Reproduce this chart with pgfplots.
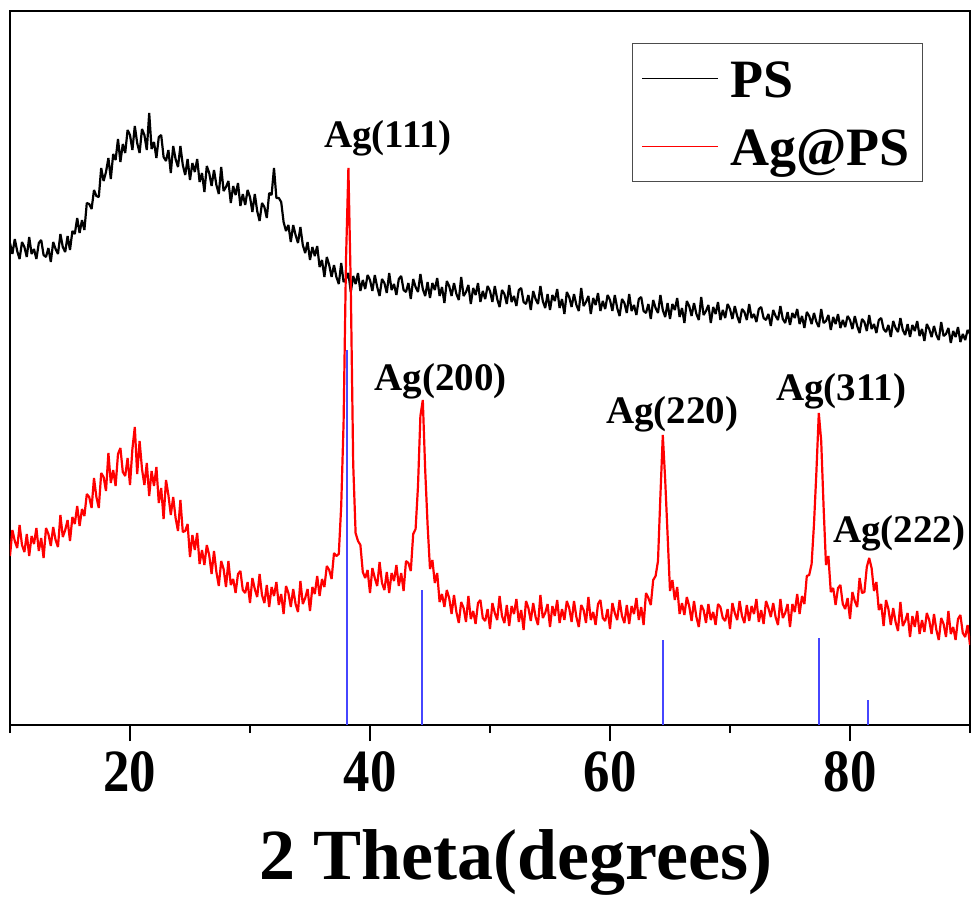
\documentclass[border=0pt]{standalone}
\usepackage{fontspec}
\setmainfont{Liberation Serif}
\usepackage{pgfplots}
\usepackage{pgfplotstable}
\pgfplotsset{compat=1.18}
\definecolor{stick}{RGB}{70,70,255}

% 2theta, PS intensity, Ag@PS intensity (arbitrary units, offset as plotted)
\pgfplotstableread{
x ps ag
10.0 482 169
10.2 471 195
10.4 486 184
10.6 474 177
10.8 466 200
11.0 483 180
11.2 478 173
11.4 468 191
11.6 488 169
11.8 471 189
12.0 476 181
12.2 466 197
12.4 482 174
12.6 485 187
12.8 470 167
13.0 468 197
13.2 477 191
13.4 463 179
13.6 483 198
13.8 476 185
14.0 471 178
14.2 491 210
14.4 478 188
14.6 473 195
14.8 489 205
15.0 475 184
15.2 494 208
15.4 491 201
15.6 507 219
15.8 492 199
16.0 505 216
16.2 495 209
16.4 522 231
16.6 521 228
16.8 516 217
17.0 535 247
17.2 529 228
17.4 528 217
17.6 557 252
17.8 544 248
18.0 553 234
18.2 567 272
18.4 546 242
18.6 571 255
18.8 565 239
19.0 586 271
19.2 563 277
19.4 581 253
19.6 572 249
19.8 595 267
20.0 590 240
20.2 575 276
20.4 599 298
20.6 582 251
20.8 572 284
21.0 596 256
21.2 590 240
21.4 575 262
21.6 612 229
21.8 576 254
22.0 583 239
22.2 567 258
22.4 588 222
22.6 590 237
22.8 568 206
23.0 564 245
23.2 575 230
23.4 552 210
23.6 579 228
23.8 566 207
24.0 558 194
24.2 579 225
24.4 560 193
24.6 550 194
24.8 566 201
25.0 545 168
25.2 562 190
25.4 553 175
25.6 566 192
25.8 543 161
26.0 552 175
26.2 533 160
26.4 559 180
26.6 552 170
26.8 539 151
27.0 555 174
27.2 540 153
27.4 531 139
27.6 558 164
27.8 534 156
28.0 538 138
28.2 544 164
28.4 522 140
28.6 539 146
28.8 530 132
29.0 542 151
29.2 519 154
29.4 531 135
29.6 520 132
29.8 535 143
30.0 528 122
30.2 513 147
30.4 531 136
30.6 514 128
30.8 504 151
31.0 522 130
31.2 518 122
31.4 507 140
31.6 532 118
31.8 530 138
32.0 557 129
32.2 527 143
32.4 527 120
32.6 523 131
32.8 503 111
33.0 494 139
33.2 500 132
33.4 483 118
33.6 500 136
33.8 490 121
34.0 482 113
34.2 498 144
34.4 480 121
34.6 472 127
34.8 483 136
35.0 465 114
35.2 478 138
35.4 469 131
35.6 479 149
35.8 458 129
36.0 465 146
36.2 448 138
36.4 468 159
36.6 460 155
36.8 448 146
37.0 460 172
37.2 448 169
37.4 441 171
37.6 462 219
37.8 443 303
38.0 446 465
38.2 452 557
38.4 433 437
38.6 449 261
38.8 441 192
39.0 452 184
39.2 434 180
39.4 445 153
39.6 436 147
39.8 450 155
40.0 445 132
40.2 434 157
40.4 450 147
40.6 438 139
40.8 429 163
41.0 446 142
41.2 442 135
41.4 432 153
41.6 452 132
41.8 435 152
42.0 441 144
42.2 430 160
42.4 446 139
42.6 449 152
42.8 435 134
43.0 433 164
43.2 442 162
43.4 426 154
43.6 446 191
43.8 438 196
44.0 433 239
44.2 451 309
44.4 436 325
44.6 429 255
44.8 443 200
45.0 427 156
45.2 442 165
45.4 435 142
45.6 447 152
45.8 429 123
46.0 438 131
46.2 422 118
46.4 444 135
46.6 439 127
46.8 429 111
47.0 442 130
47.2 431 113
47.4 425 102
47.6 448 123
47.8 429 117
48.0 433 103
48.2 440 129
48.4 421 106
48.6 437 114
48.8 430 101
49.0 442 122
49.2 423 125
49.4 434 107
49.6 426 104
49.8 439 116
50.0 434 96
50.2 423 122
50.4 439 112
50.6 426 105
50.8 418 129
51.0 435 109
51.2 431 102
51.4 421 120
51.6 440 99
51.8 423 119
52.0 429 111
52.2 419 126
52.4 435 103
52.6 437 115
52.8 423 95
53.0 421 124
53.2 430 117
53.4 415 104
53.6 434 122
53.8 426 108
54.0 421 100
54.2 439 130
54.4 424 107
54.6 417 112
54.8 431 121
55.0 415 98
55.2 430 119
55.4 424 109
55.6 436 125
55.8 417 102
56.0 426 116
56.2 411 105
56.4 433 124
56.6 428 117
56.8 418 103
57.0 431 124
57.2 420 108
57.4 414 98
57.6 437 120
57.8 419 115
58.0 423 102
58.2 429 128
58.4 411 105
58.6 427 113
58.8 420 100
59.0 432 121
59.2 414 125
59.4 424 107
59.6 416 104
59.8 430 116
60.0 425 96
60.2 414 122
60.4 430 112
60.6 417 105
60.8 409 125
61.0 426 109
61.2 422 102
61.4 412 120
61.6 431 101
61.8 414 119
62.0 420 111
62.2 410 127
62.4 426 105
62.6 428 118
62.8 414 100
63.0 412 132
63.2 421 127
63.4 406 120
63.6 425 145
63.8 417 149
64.0 412 164
64.2 430 229
64.4 415 290
64.6 408 245
64.8 422 190
65.0 406 134
65.2 421 145
65.4 415 125
65.6 427 138
65.8 408 111
66.0 417 122
66.2 402 110
66.4 424 128
66.6 419 119
66.8 409 104
67.0 422 124
67.2 411 108
67.4 405 98
67.6 428 120
67.8 410 115
68.0 414 102
68.2 420 121
68.4 402 105
68.6 418 113
68.8 411 100
69.0 423 121
69.2 405 118
69.4 415 107
69.6 407 104
69.8 421 116
70.0 416 96
70.2 406 122
70.4 419 112
70.6 409 105
70.8 402 124
71.0 416 109
71.2 413 102
71.4 405 120
71.6 421 104
71.8 407 119
72.0 411 111
72.2 403 126
72.4 416 103
72.6 418 115
72.8 407 101
73.0 405 124
73.2 411 117
73.4 399 108
73.6 415 122
73.8 409 108
74.0 405 100
74.2 419 126
74.4 406 107
74.6 402 112
74.8 413 121
75.0 400 98
75.2 412 121
75.4 407 113
75.6 416 131
75.8 401 111
76.0 409 129
76.2 397 121
76.4 413 149
76.6 409 150
76.8 401 161
77.0 412 201
77.2 403 253
77.4 398 312
77.6 416 284
77.8 402 218
78.0 404 160
78.2 410 169
78.4 395 133
78.6 408 137
78.8 401 120
79.0 411 137
79.2 397 140
79.4 405 121
79.6 398 116
79.8 409 127
80.0 405 106
80.2 396 133
80.4 409 124
80.6 399 118
80.8 392 147
81.0 406 132
81.2 403 133
81.4 394 158
81.6 410 167
81.8 396 157
82.0 401 134
82.2 392 143
82.4 405 115
82.6 407 121
82.8 396 99
83.0 393 125
83.2 400 116
83.4 388 100
83.6 404 117
83.8 397 103
84.0 393 94
84.2 407 123
84.4 395 99
84.6 390 104
84.8 401 112
85.0 388 88
85.2 400 109
85.4 394 98
85.6 404 114
85.8 389 91
86.0 396 105
86.2 384 93
86.4 401 112
86.6 396 105
86.8 388 91
87.0 399 111
87.2 390 95
87.4 385 85
87.6 403 107
87.8 389 101
88.0 391 88
88.2 397 114
88.4 382 91
88.6 394 98
88.8 388 85
89.0 398 106
89.2 383 110
89.4 391 92
89.6 385 88
89.8 395 100
90.0 391 80
}\xrd

\begin{document}
\begin{tikzpicture}
\begin{axis}[
  scale only axis,
  width=480pt, height=357pt,
  xmin=10, xmax=90, ymin=0, ymax=714,
  axis line style={line width=1pt, black},
  xtick={20,40,60,80},
  minor xtick={10,30,50,70,90},
  ytick=\empty,
  xtick pos=left,
  tick align=outside,
  major tick length=8pt,
  minor tick length=4pt,
  every tick/.style={line width=1pt, black},
  /pgf/number format/assume math mode=true,
  xticklabel style={font=\bfseries\fontsize{30}{30}\selectfont, xscale=0.88, anchor=center, yshift=-15.5pt},
  xlabel={2 Theta(degrees)},
  xlabel style={font=\bfseries\fontsize{36}{36}\selectfont, at={(axis description cs:0.5,0)}, anchor=base, xshift=13pt, yshift=-77pt},
  legend style={at={(1,1)}, anchor=north east, xshift=-23.5pt, yshift=-16pt,
    draw=black!70, line width=0.6pt, font=\bfseries\fontsize{27}{27}\selectfont,
    inner xsep=4.5pt, inner ysep=3pt, row sep=5pt, column sep=3.5pt,
    nodes={inner sep=2pt, text height=22pt, text depth=3pt}},
  legend cell align=left,
  legend image code/.code={\draw[#1, line width=0.8pt] (0pt,0pt) -- (38pt,0pt);},
]
\addplot[black, line width=1.1pt, line join=bevel] table[x=x, y=ps] {\xrd};
\addplot[red, line width=1.1pt, line join=bevel] table[x=x, y=ag] {\xrd};
\addplot[ycomb, stick, line width=1pt, mark=none, forget plot] coordinates {
  (38.1,375) (44.3,135) (64.4,85) (77.4,87) (81.5,25)};
\legend{PS, Ag@PS}

\node[font=\bfseries\fontsize{19.5}{20}\selectfont, anchor=base] at (axis cs:41.5,578) {Ag(111)};
\node[font=\bfseries\fontsize{19.5}{20}\selectfont, anchor=base] at (axis cs:45.9,335) {Ag(200)};
\node[font=\bfseries\fontsize{19.5}{20}\selectfont, anchor=base] at (axis cs:65.2,302) {Ag(220)};
\node[font=\bfseries\fontsize{19.5}{20}\selectfont, anchor=base] at (axis cs:79.25,325) {Ag(311)};
\node[font=\bfseries\fontsize{19.5}{20}\selectfont, anchor=base] at (axis cs:84.1,183) {Ag(222)};
\end{axis}
\pgfresetboundingbox
\path[use as bounding box] ([shift={(-5pt,-96.5pt)}]current axis.south west) rectangle ([shift={(1.5pt,5.5pt)}]current axis.north east);
\end{tikzpicture}
\end{document}
